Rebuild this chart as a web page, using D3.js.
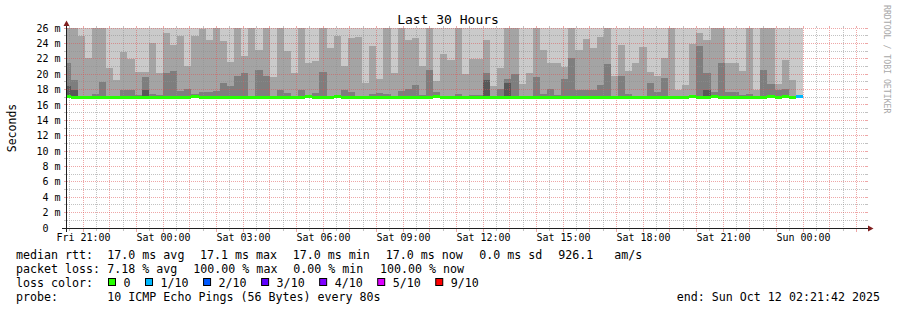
<!doctype html>
<html>
<head>
<meta charset="utf-8">
<script src="https://cdnjs.cloudflare.com/ajax/libs/d3/7.8.5/d3.min.js" type="text/JavaScript"></script>
<style>
  body { margin: 0; background: #fff; }
  svg { display: block; font-family: "DejaVu Sans Mono", monospace; }
  text { white-space: pre; }
</style>
</head>
<body>
<svg width="897" height="310"></svg>
<script type="text/javascript">
// graph window and the 16 minute consolidation bins (first bin starts before the window)
var graphStart = new Date(2025, 9, 10, 20, 21, 42);
var graphEnd = new Date(2025, 9, 12, 2, 21, 42);
var binStart = new Date(2025, 9, 10, 20, 16, 0);
var binMinutes = 16;

// median rtt per bin, ms
var median = [
  17.2, 17.0, 17.0, 17.0, 17.0, 17.0, 17.0, 17.0, 17.0, 17.0,
  17.0, 17.0, 17.0, 17.0, 17.0, 17.0, 17.0, 17.0, 17.2, 17.0,
  17.0, 17.0, 17.0, 17.0, 17.0, 17.0, 17.0, 17.0, 17.0, 17.0,
  17.0, 17.0, 17.0, 17.0, 17.2, 17.0, 17.0, 17.0, 17.2, 17.0,
  17.0, 17.0, 17.0, 17.0, 17.0, 17.0, 17.0, 17.0, 17.0, 17.0,
  17.0, 17.0, 17.2, 17.0, 17.0, 17.0, 17.0, 17.0, 17.0, 17.0,
  17.0, 17.0, 17.0, 17.0, 17.0, 17.0, 17.0, 17.0, 17.0, 17.0,
  17.0, 17.0, 17.0, 17.0, 17.0, 17.0, 17.0, 17.0, 17.0, 17.0,
  17.0, 17.0, 17.0, 17.0, 17.0, 17.0, 17.0, 17.0, 17.2, 17.0,
  17.0, 17.2, 17.0, 17.0, 17.0, 17.0, 17.0, 17.0, 17.0, 17.2,
  17.0, 17.2, 17.0, 17.1
];
// sorted pings 7..10 (of 10), ms
var ping7 = [
  18.5, 17.9, 17.0, 17.0, 17.0, 17.0, 17.0, 17.0, 17.0, 17.0,
  17.0, 17.9, 17.0, 17.0, 17.0, 17.0, 17.0, 17.0, 17.0, 17.0,
  17.0, 17.0, 17.0, 17.2, 17.0, 17.0, 17.0, 17.0, 17.0, 17.0,
  17.0, 17.0, 17.0, 17.0, 17.0, 17.0, 17.0, 17.0, 17.0, 17.2,
  17.0, 17.0, 17.0, 17.0, 17.0, 17.0, 17.0, 17.0, 17.0, 17.0,
  17.0, 17.0, 17.0, 17.0, 17.0, 17.0, 17.0, 17.0, 17.0, 19.3,
  17.0, 17.0, 18.8, 17.0, 17.0, 17.0, 17.0, 17.0, 17.0, 17.0,
  17.0, 17.0, 17.0, 17.0, 17.0, 17.0, 17.0, 17.0, 17.0, 17.0,
  17.0, 17.0, 17.0, 17.0, 17.0, 17.0, 17.0, 17.0, 17.0, 17.0,
  17.9, 17.0, 17.0, 17.0, 17.0, 17.0, 17.0, 17.0, 17.0, 17.0,
  17.0, 17.0, 17.0, 17.0
];
var ping8 = [
  21.5, 19.2, 17.2, 17.1, 17.4, 19.0, 17.1, 17.2, 18.0, 18.0,
  17.3, 19.6, 17.4, 17.3, 20.2, 20.4, 17.8, 18.1, 17.4, 17.7,
  17.7, 17.8, 18.8, 18.5, 19.8, 20.2, 17.2, 20.5, 19.7, 17.1,
  18.0, 17.6, 17.1, 18.0, 17.1, 17.6, 20.3, 17.1, 17.2, 18.0,
  17.7, 17.1, 17.2, 17.4, 17.5, 17.4, 17.1, 17.8, 18.1, 18.6,
  17.3, 20.6, 17.7, 17.2, 17.1, 17.4, 17.2, 17.3, 17.3, 20.1,
  17.1, 18.1, 19.4, 20.0, 17.1, 17.2, 19.6, 17.4, 18.1, 17.3,
  19.4, 22.1, 18.0, 17.9, 17.9, 18.6, 21.3, 17.1, 19.8, 17.4,
  17.1, 17.1, 18.8, 17.7, 19.5, 17.1, 17.1, 17.1, 17.2, 23.6,
  20.1, 17.7, 21.5, 17.7, 17.7, 17.3, 17.4, 17.1, 20.6, 18.7,
  18.0, 18.1, 17.1, 17.1
];
var ping9 = [
  27.0, 27.0, 25.0, 22.1, 27.0, 27.0, 20.8, 19.2, 22.9, 22.0,
  20.3, 20.3, 24.0, 20.2, 25.4, 23.8, 24.9, 21.0, 24.9, 25.9,
  24.4, 27.0, 24.3, 21.6, 27.0, 22.3, 27.0, 23.2, 27.0, 19.6,
  27.0, 23.0, 20.2, 27.0, 21.4, 21.7, 27.0, 23.4, 24.9, 21.1,
  24.7, 24.8, 18.9, 23.6, 19.4, 27.0, 20.2, 27.0, 24.5, 24.7,
  21.0, 27.0, 19.1, 22.6, 21.9, 27.0, 20.0, 22.0, 22.0, 24.5,
  18.5, 20.8, 27.0, 27.0, 18.7, 20.1, 27.0, 23.2, 21.4, 21.4,
  20.9, 27.0, 23.2, 24.6, 23.4, 24.8, 27.0, 19.8, 23.8, 20.4,
  21.4, 23.5, 20.3, 19.8, 22.1, 27.0, 18.0, 18.6, 23.9, 25.4,
  24.4, 27.0, 27.0, 21.5, 21.5, 20.4, 27.0, 18.0, 27.0, 27.0,
  18.7, 21.8, 19.2, 17.3
];
var ping10 = [
  27, 27, 27, 27, 27, 27, 27, 27, 27, 27,
  27, 27, 27, 27, 27, 27, 27, 27, 27, 27,
  27, 27, 27, 27, 27, 27, 27, 27, 27, 27,
  27, 27, 27, 27, 27, 27, 27, 27, 27, 27,
  27, 27, 27, 27, 27, 27, 27, 27, 27, 27,
  27, 27, 27, 27, 27, 27, 27, 27, 27, 27,
  27, 27, 27, 27, 27, 27, 27, 27, 27, 27,
  27, 27, 27, 27, 27, 27, 27, 27, 27, 27,
  27, 27, 27, 27, 27, 27, 27, 27, 27, 27,
  27, 27, 27, 27, 27, 27, 27, 27, 27, 27,
  27, 27, 27, 27
];
// index into lossLabels per bin
var loss = [
  0, 0, 0, 0, 0, 0, 0, 0, 0, 0,  0, 0, 0, 0, 0, 0, 0, 0, 0, 0,
  0, 0, 0, 0, 0, 0, 0, 0, 0, 0,  0, 0, 0, 0, 0, 0, 0, 0, 0, 0,
  0, 0, 0, 0, 0, 0, 0, 0, 0, 0,  0, 0, 0, 0, 0, 0, 0, 0, 0, 0,
  0, 0, 0, 0, 0, 0, 0, 0, 0, 0,  0, 0, 0, 0, 0, 0, 0, 0, 0, 0,
  0, 0, 0, 0, 0, 0, 0, 0, 0, 0,  0, 0, 0, 0, 0, 0, 0, 0, 0, 0,
  0, 0, 0, 1
];

var lossLabels = ["0", "1/10", "2/10", "3/10", "4/10", "5/10", "9/10"];
var lossColors = ["#26ff00", "#00b8ff", "#0059ff", "#5e00ff", "#7e00ff", "#dd00ff", "#ff0000"];
var smokeColors = ["#cacaca", "#a4a4a4", "#7e7e7e", "#585858"];
var yLabelTicks = [0, 2, 4, 6, 8, 10, 12, 14, 16, 18, 20, 22, 24, 26];

var statsRtt = ["median rtt:", "17.0 ms avg", "17.1 ms max", "17.0 ms min", "17.0 ms now", "0.0 ms sd", "926.1", "am/s"];
var statsLoss = ["packet loss:", "7.18 % avg", "100.00 % max", "0.00 % min", "100.00 % now"];
var probeText = ["probe:", "10 ICMP Echo Pings (56 Bytes) every 80s"];

var rttX = [16, 107.3, 200, 292.7, 385.7, 479.3, 558.3, 614.3];
var lossX = [16, 107.3, 193.3, 293.3, 380];

var gridCol = "rgba(143,143,143,0.55)";
var mgridCol = "rgba(222,79,79,0.5)";

var svg = d3.select("svg");
svg.append("rect").attr("width", 897).attr("height", 310).attr("fill", "#fff");

var x = d3.scaleTime().domain([graphStart, graphEnd]).range([66, 866]);
var y = d3.scaleLinear().domain([0, 26]).range([228, 28]);
function crisp(v) { return Math.floor(v) + 0.5; }

svg.append("clipPath").attr("id", "plot")
  .append("rect").attr("x", 66).attr("y", 28).attr("width", 800).attr("height", 200);

var bins = median.map(function(m, i) {
  var t0 = d3.timeMinute.offset(binStart, i * binMinutes);
  return {i: i, t0: t0, t1: d3.timeMinute.offset(t0, binMinutes), median: m, loss: loss[i]};
});
function bx(d) { return Math.round(x(d.t0)); }
function bw(d) { return Math.round(x(d.t1)) - Math.round(x(d.t0)); }

var plot = svg.append("g").attr("clip-path", "url(#plot)");

// smoke
[ping10, ping9, ping8, ping7].forEach(function(tops, l) {
  plot.append("g").attr("fill", smokeColors[l])
    .selectAll("rect").data(bins).enter().append("rect")
    .attr("x", bx).attr("width", bw)
    .attr("y", d => Math.round(y(tops[d.i])))
    .attr("height", d => Math.max(0, Math.round(y(d.median)) - Math.round(y(tops[d.i]))));
});

// grid
var grid = svg.append("g").attr("fill", "none").attr("stroke-width", 1);
var majorT = x.ticks(d3.timeHour.every(1));
var minorT = x.ticks(d3.timeMinute.every(30)).filter(t => t.getMinutes() !== 0);

function vLines(ts, col, below) {
  var g = grid.append("g").attr("stroke", col);
  ts.forEach(function(t) {
    var cx = crisp(x(t));
    g.append("path").attr("d", "M" + cx + ",227V29").attr("stroke-dasharray", "1,1");
    g.append("path").attr("d", "M" + cx + ",26V28");
    g.append("path").attr("d", "M" + cx + ",229V" + (229 + below));
  });
}
vLines(minorT, gridCol, 2);
vLines(majorT, mgridCol, 3);

function hLines(vs, col) {
  var g = grid.append("g").attr("stroke", col);
  vs.forEach(function(v) {
    var cy = crisp(y(v));
    g.append("path").attr("d", "M67," + cy + "H866").attr("stroke-dasharray", "1,1");
    g.append("path").attr("d", "M64," + cy + "H66");
    g.append("path").attr("d", "M866," + cy + "H868");
  });
}
hLines(y.ticks(26).filter(v => v % 2 === 1), gridCol);
hLines(yLabelTicks.filter(v => v > 0), mgridCol);

// median, coloured by loss
svg.append("g").attr("clip-path", "url(#plot)")
  .selectAll("rect").data(bins).enter().append("rect")
  .attr("x", bx).attr("width", bw)
  .attr("y", d => Math.round(y(d.median)) - 1)
  .attr("height", 3)
  .attr("fill", d => lossColors[d.loss]);

// axes
svg.append("path").attr("d", "M62,228.5H870").attr("stroke", "#1f1f1f");
svg.append("path").attr("d", "M66.5,232V24").attr("stroke", "#1f1f1f");
svg.append("path").attr("d", "M868,225.5L868,231.5L873.5,228.5Z").attr("fill", "#801f1f");
svg.append("path").attr("d", "M63.5,26L69.5,26L66.5,20.5Z").attr("fill", "#801f1f");

// axis labels
svg.append("g").attr("font-size", "10px").attr("text-anchor", "end")
  .selectAll("text").data(yLabelTicks).enter().append("text")
  .attr("x", 60.5).attr("y", d => y(d) + 3.6)
  .text(d => (d === 0 ? " 0  " : String(d).padStart(2) + " m"));

var fmt = d3.timeFormat("%a %H:%M");
svg.append("g").attr("font-size", "10px").attr("text-anchor", "middle")
  .selectAll("text").data(x.ticks(d3.timeHour.every(3))).enter().append("text")
  .attr("x", d => crisp(x(d))).attr("y", 241)
  .text(fmt);

svg.append("text").attr("x", 448).attr("y", 24).attr("font-size", "13px")
  .attr("text-anchor", "middle").text("Last 30 Hours");

svg.append("text").attr("transform", "translate(15.5,128) rotate(-90)")
  .attr("font-size", "11.5px").attr("text-anchor", "middle").text("Seconds");

svg.append("text").attr("transform", "translate(884,5) rotate(90)")
  .attr("font-size", "8.2px").attr("fill", "#a8a8a8").text("RRDTOOL / TOBI OETIKER");

// legend
var legend = svg.append("g").attr("font-size", "11.65px");
statsRtt.forEach(function(s, i) {
  legend.append("text").attr("x", rttX[i]).attr("y", 258.5).text(s);
});
statsLoss.forEach(function(s, i) {
  legend.append("text").attr("x", lossX[i]).attr("y", 272.5).text(s);
});
legend.append("text").attr("x", 16).attr("y", 286.5).text("loss color:");
var lx = 108.5;
lossLabels.forEach(function(s, i) {
  legend.append("rect").attr("x", lx).attr("y", 278.5).attr("width", 7).attr("height", 7)
    .attr("fill", lossColors[i]).attr("stroke", "#000");
  var t = legend.append("text").attr("x", lx + 15).attr("y", 286.5).text(s);
  lx = lx + 15 + t.node().getComputedTextLength() + 15;
});
legend.append("text").attr("x", 16).attr("y", 300.5).text(probeText[0]);
legend.append("text").attr("x", 107.3).attr("y", 300.5).text(probeText[1]);
legend.append("text").attr("x", 880).attr("y", 300.5).attr("text-anchor", "end")
  .text(d3.timeFormat("end: %a %b %d %H:%M:%S %Y")(graphEnd));
</script>
</body>
</html>
